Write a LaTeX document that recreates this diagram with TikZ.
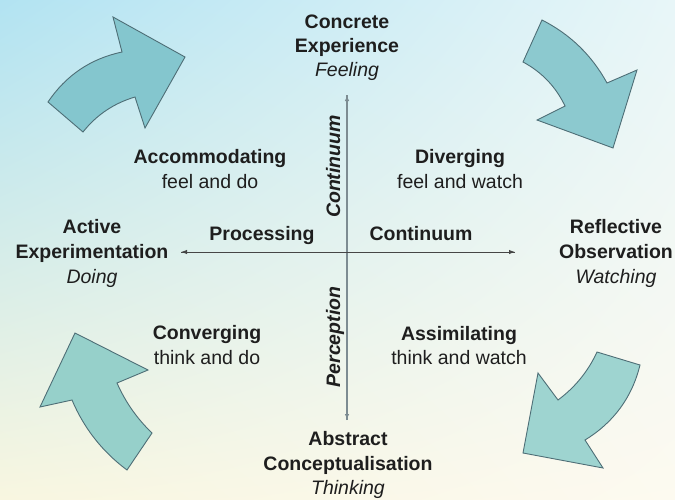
\documentclass[tikz,border=0pt]{standalone}
\usepackage{fontspec}
\setmainfont{Liberation Sans}
\usetikzlibrary{arrows.meta,shadings}

\definecolor{bgTL}{RGB}{178,227,242}
\definecolor{bgTR}{RGB}{232,246,248}
\definecolor{bgBL}{RGB}{248,246,224}
\definecolor{bgBR}{RGB}{253,250,240}
\definecolor{txt}{RGB}{30,30,30}
\definecolor{bigedge}{RGB}{78,110,118}
\definecolor{fillA}{RGB}{132,198,206}
\definecolor{fillB}{RGB}{140,201,207}
\definecolor{fillC}{RGB}{150,208,202}
\definecolor{fillD}{RGB}{158,212,208}
\definecolor{vaxis}{RGB}{125,140,146}
\definecolor{haxis}{RGB}{70,70,70}

\begin{document}
\begin{tikzpicture}[x=1pt,y=-1pt,
  lbl/.style={anchor=base, inner sep=0pt, text=txt, font=\fontsize{19.5}{24}\selectfont},
  head/.style={lbl, font=\fontsize{19.5}{24}\selectfont\bfseries},
  mode/.style={lbl, font=\fontsize{19.5}{24}\selectfont\itshape},
  axislbl/.style={lbl, rotate=90, font=\fontsize{19.5}{24}\selectfont\bfseries\itshape},
  bigarrow/.style={draw=bigedge, line width=0.9pt, line join=miter},
  axistip/.style={-{Latex[length=6pt,width=4.5pt]}}]

% background
\useasboundingbox (0,0) rectangle (675,499);
\shade[upper left=bgTL, upper right=bgTR, lower left=bgBL, lower right=bgBR]
  (0,0) rectangle (675,499);

% curved cycle arrows
\draw[bigarrow, fill=fillA]
  (48,102) -- (83,132) .. controls (96.6,114.8) and (114,103.2) .. (135,97)
  -- (145,128) -- (185,57) -- (113,17) -- (122,52)
  .. controls (90.6,58.7) and (66,75.3) .. cycle;
\draw[bigarrow, fill=fillB]
  (542,20) -- (523,62) .. controls (541.8,72.1) and (555.8,86.7) .. (565,106)
  -- (537,120) -- (613,148) -- (637,70) -- (607,83)
  .. controls (591.8,55.3) and (570.2,34.3) .. cycle;
\draw[bigarrow, fill=fillD]
  (597,352) -- (640,365) .. controls (632,397.5) and (613.6,422.5) .. (585,440)
  -- (603,468) -- (523,453) -- (538,373) -- (558,400)
  .. controls (575.1,387.3) and (588.1,371.3) .. cycle;
\draw[bigarrow, fill=fillC]
  (75,333) -- (148,370) -- (117,383)
  .. controls (125.4,402) and (137,418.6) .. (152,433)
  -- (127,470) .. controls (102.4,451.7) and (84,428.3) .. (72,400)
  -- (40,407) -- cycle;

% axes
\coordinate (centre) at (347,252);
\coordinate (top) at (347,95);
\coordinate (bottom) at (347,420);
\coordinate (left) at (181,252);
\coordinate (right) at (515,252);
\draw[axistip, draw=vaxis, line width=1.5pt] (bottom) -- (top);
\draw[axistip, draw=vaxis, line width=1.5pt] (top) -- (bottom);
\draw[axistip, draw=haxis, line width=0.9pt] (right) -- (left);
\draw[axistip, draw=haxis, line width=0.9pt] (left) -- (right);

% poles
\node[head] (concrete) at (347,28) {Concrete};
\node[head] (experience) at (347,52) {Experience};
\node[mode] (feeling) at (347,76) {Feeling};

\node[head] (abstract) at (348,445) {Abstract};
\node[head] (concept) at (348,470) {Conceptualisation};
\node[mode] (thinking) at (348,494) {Thinking};

\node[head] (active) at (92,233) {Active};
\node[head] (experiment) at (92,258) {Experimentation};
\node[mode] (doing) at (92,283) {Doing};

\node[head] (reflective) at (616,233) {Reflective};
\node[head] (observation) at (616,258) {Observation};
\node[mode] (watching) at (616,283) {Watching};

% styles in the quadrants
\node[head] (accom) at (210,163) {Accommodating};
\node[lbl] (accomsub) at (210,188) {feel and do};
\node[head] (diverg) at (460,163) {Diverging};
\node[lbl] (divergsub) at (460,188) {feel and watch};
\node[head] (converg) at (207,339) {Converging};
\node[lbl] (convergsub) at (207,364) {think and do};
\node[head] (assim) at (459,340) {Assimilating};
\node[lbl] (assimsub) at (459,364) {think and watch};

% continuum labels
\node[head] (processing) at (262,240) {Processing};
\node[head] (continuumh) at (421,240) {Continuum};
\node[axislbl] (continuumv) at (340,166.5) {Continuum};
\node[axislbl] (perception) at (340,337) {Perception};
\end{tikzpicture}
\end{document}
